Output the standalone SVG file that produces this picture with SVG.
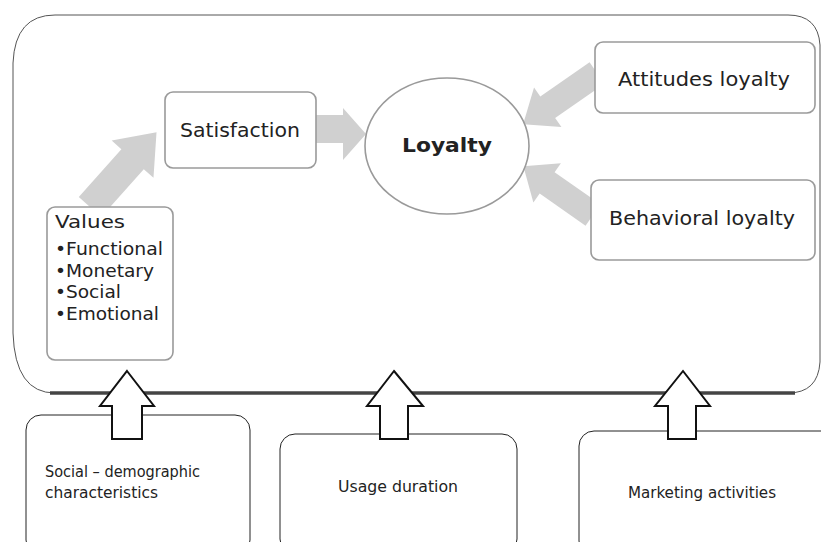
<svg xmlns="http://www.w3.org/2000/svg" width="821" height="542" viewBox="0 0 821 542">
<style>
.box{fill:#fff;stroke:#9a9a9a;stroke-width:1.6}
.bbox{fill:#fff;stroke:#222;stroke-width:1}
.t{font-family:"DejaVu Sans","Liberation Sans",sans-serif;fill:#222}
.tc{font-family:"DejaVu Sans Condensed","DejaVu Sans","Liberation Sans",sans-serif;font-stretch:condensed;fill:#222;font-size:16px}
.gray{fill:#d0d0d0;stroke:none}
.up{fill:#fff;stroke:#111;stroke-width:2;stroke-linejoin:miter}
</style>
<rect width="821" height="542" fill="#fff"/>
<g id="frame">
<path d="M55,15 H788 Q818,15 820,45 V362 Q818,393 788,393 H55 Q15,393 13,333 V63 Q15,15 55,15 Z" fill="none" stroke="#555" stroke-width="1"/>
<path d="M50,393 H795" stroke="#444" stroke-width="3.5" fill="none"/>
</g>
<g id="social-demographic">
<rect class="bbox" x="26" y="415" width="224" height="140" rx="15"/>
<text class="tc" x="45" y="477" textLength="155" lengthAdjust="spacingAndGlyphs">Social  – demographic</text>
<text class="tc" x="45" y="498" textLength="113" lengthAdjust="spacingAndGlyphs">characteristics</text>
</g>
<g id="usage-duration">
<rect class="bbox" x="280" y="434" width="237" height="120" rx="15"/>
<text class="tc" x="338" y="492" textLength="120" lengthAdjust="spacingAndGlyphs">Usage duration</text>
</g>
<g id="marketing-activities">
<rect class="bbox" x="579" y="431" width="260" height="125" rx="15"/>
<text class="tc" x="628" y="498" textLength="148" lengthAdjust="spacingAndGlyphs">Marketing activities</text>
</g>
<g id="connectors">
<polygon class="gray" transform="translate(90,207) rotate(-48.3)" points="0,-15 64,-15 64,-28 100,0 64,28 64,15 0,15"/>
<polygon class="gray" points="316,115 343,115 343,108 366,134 343,160 343,143 316,143"/>
<polygon class="gray" transform="translate(597,73) rotate(145.2)" points="0,-13 60,-13 60,-24 90,0 60,24 60,13 0,13"/>
<polygon class="gray" transform="translate(593,215) rotate(-145)" points="0,-13 56,-13 56,-24 85,0 56,24 56,13 0,13"/>
<polygon class="up" points="127,371 154,406 142,406 142,439 112,439 112,406 100,406"/>
<polygon class="up" points="394,371 423,406 408,406 408,439 380,439 380,406 367,406"/>
<polygon class="up" points="683,371 710,406 696,406 696,439 668,439 668,406 655,406"/>
</g>
<g id="satisfaction">
<rect class="box" x="165" y="92" width="151" height="76" rx="8"/>
<text class="t" x="240" y="137" font-size="20" text-anchor="middle" textLength="120" lengthAdjust="spacingAndGlyphs">Satisfaction</text>
</g>
<g id="loyalty">
<ellipse class="box" cx="447" cy="146" rx="82" ry="68"/>
<text class="t" x="447" y="152" font-size="20" font-weight="bold" text-anchor="middle" textLength="90" lengthAdjust="spacingAndGlyphs">Loyalty</text>
</g>
<g id="attitudes-loyalty">
<rect class="box" x="595" y="42" width="220" height="71" rx="8"/>
<text class="t" x="704" y="86" font-size="20" text-anchor="middle" textLength="172" lengthAdjust="spacingAndGlyphs">Attitudes loyalty</text>
</g>
<g id="behavioral-loyalty">
<rect class="box" x="591" y="180" width="224" height="80" rx="8"/>
<text class="t" x="702" y="225" font-size="20" text-anchor="middle" textLength="186" lengthAdjust="spacingAndGlyphs">Behavioral loyalty</text>
</g>
<g id="values">
<rect class="box" x="47" y="207" width="126" height="153" rx="8"/>
<text class="t" x="55" y="228" font-size="18" textLength="70" lengthAdjust="spacingAndGlyphs">Values</text>
<text class="t" x="55" y="255" font-size="17" textLength="108" lengthAdjust="spacingAndGlyphs">•Functional</text>
<text class="t" x="55" y="277" font-size="17" textLength="99" lengthAdjust="spacingAndGlyphs">•Monetary</text>
<text class="t" x="55" y="298" font-size="17" textLength="66" lengthAdjust="spacingAndGlyphs">•Social</text>
<text class="t" x="55" y="320" font-size="17" textLength="104" lengthAdjust="spacingAndGlyphs">•Emotional</text>
</g>
</svg>
